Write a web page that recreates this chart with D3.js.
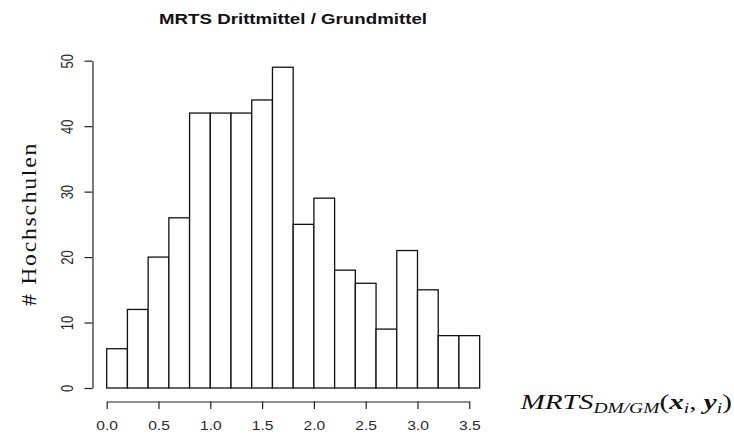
<!DOCTYPE html>
<html><head><meta charset="utf-8">
<script src="https://cdn.jsdelivr.net/npm/d3@7"></script>
<style>body{margin:0;background:#fff}svg{display:block}</style>
</head><body>
<svg id="c" width="734" height="439"></svg>
<script>
const binStarts = [0.0,0.2,0.4,0.6,0.8,1.0,1.2,1.4,1.6,1.8,2.0,2.2,2.4,2.6,2.8,3.0,3.2,3.4];
const binWidth = 0.2;
const counts = [6,12,20,26,42,42,42,44,49,25,29,18,16,9,21,15,8,8];
const xTicks = [0.0,0.5,1.0,1.5,2.0,2.5,3.0,3.5];
const yTicks = [0,10,20,30,40,50];
const title = "MRTS Drittmittel / Grundmittel";
const yTitle = "# Hochschulen";

const svg = d3.select("#c");
const x = d3.scaleLinear().domain([0,3.5]).range([106.7,469.3]);
const y = d3.scaleLinear().domain([0,50]).range([388,60.7]);
const sans = "Liberation Sans, Arial, sans-serif";

svg.append("g").selectAll("rect").data(counts).join("rect")
  .attr("x",(d,i)=>x(binStarts[i]))
  .attr("y",d=>y(d))
  .attr("width",(d,i)=>x(binStarts[i]+binWidth)-x(binStarts[i]))
  .attr("height",d=>y(0)-y(d))
  .attr("fill","#fff").attr("stroke","#111").attr("stroke-width",1.3);

const xa = svg.append("g").attr("transform","translate(0,401.5)")
  .call(d3.axisBottom(x).tickValues(xTicks).tickFormat(d3.format(".1f")).tickSize(7.5).tickPadding(12).tickSizeOuter(0));
xa.select(".domain").attr("stroke","#222").attr("stroke-width",1.2);
xa.selectAll(".tick line").attr("stroke","#222").attr("stroke-width",1.2);
xa.selectAll("text").attr("font-family",sans).attr("font-size",13).attr("fill","#2a2a2a")
  .attr("transform","scale(1.2,1)");

const ya = svg.append("g").attr("transform","translate(92.5,0)")
  .call(d3.axisLeft(y).tickValues(yTicks).tickSize(8).tickPadding(0).tickSizeOuter(0));
ya.select(".domain").attr("stroke","#222").attr("stroke-width",1.2);
ya.selectAll(".tick line").attr("stroke","#222").attr("stroke-width",1.2);
ya.selectAll("text").attr("font-family",sans).attr("font-size",13).attr("fill","#2a2a2a")
  .attr("text-anchor","middle").attr("x",null)
  .attr("transform","translate(-25,0) scale(1.2,1) rotate(-90)").attr("dy","0.35em");

svg.append("text").attr("x",293).attr("y",24).attr("text-anchor","middle")
  .attr("font-family",sans).attr("font-weight","bold").attr("font-size",15)
  .attr("textLength",268).attr("lengthAdjust","spacingAndGlyphs")
  .attr("fill","#111").text(title);

svg.append("text").attr("transform","translate(36,224) rotate(-90)").attr("text-anchor","middle")
  .attr("font-family","Liberation Serif, Times New Roman, serif").attr("font-size",20)
  .attr("letter-spacing",1.5)
  .attr("textLength",164).attr("lengthAdjust","spacingAndGlyphs")
  .attr("fill","#111").text(yTitle);

const mg = svg.append("g");
const m = mg.append("text").attr("x",0).attr("y",0)
  .attr("font-family","Liberation Serif, Times New Roman, serif").attr("font-style","italic").attr("font-size",21).attr("fill","#111");
m.append("tspan").text("MRTS");
m.append("tspan").attr("font-size",14).attr("dy",4).text("DM/GM");
m.append("tspan").attr("dy",-4).attr("font-style","normal").text("(");
m.append("tspan").attr("font-weight","bold").text("x");
m.append("tspan").attr("font-size",14).attr("dy",4).text("i");
m.append("tspan").attr("dy",-4).attr("font-style","normal").text(", ");
m.append("tspan").attr("font-weight","bold").text("y");
m.append("tspan").attr("font-size",14).attr("dy",4).text("i");
m.append("tspan").attr("dy",-4).attr("font-style","normal").text(")");
const bb = m.node().getBBox();
const sx = 213 / bb.width;
mg.attr("transform",`translate(${519 - bb.x*sx},409) scale(${sx},1)`);
</script>
</body></html>
